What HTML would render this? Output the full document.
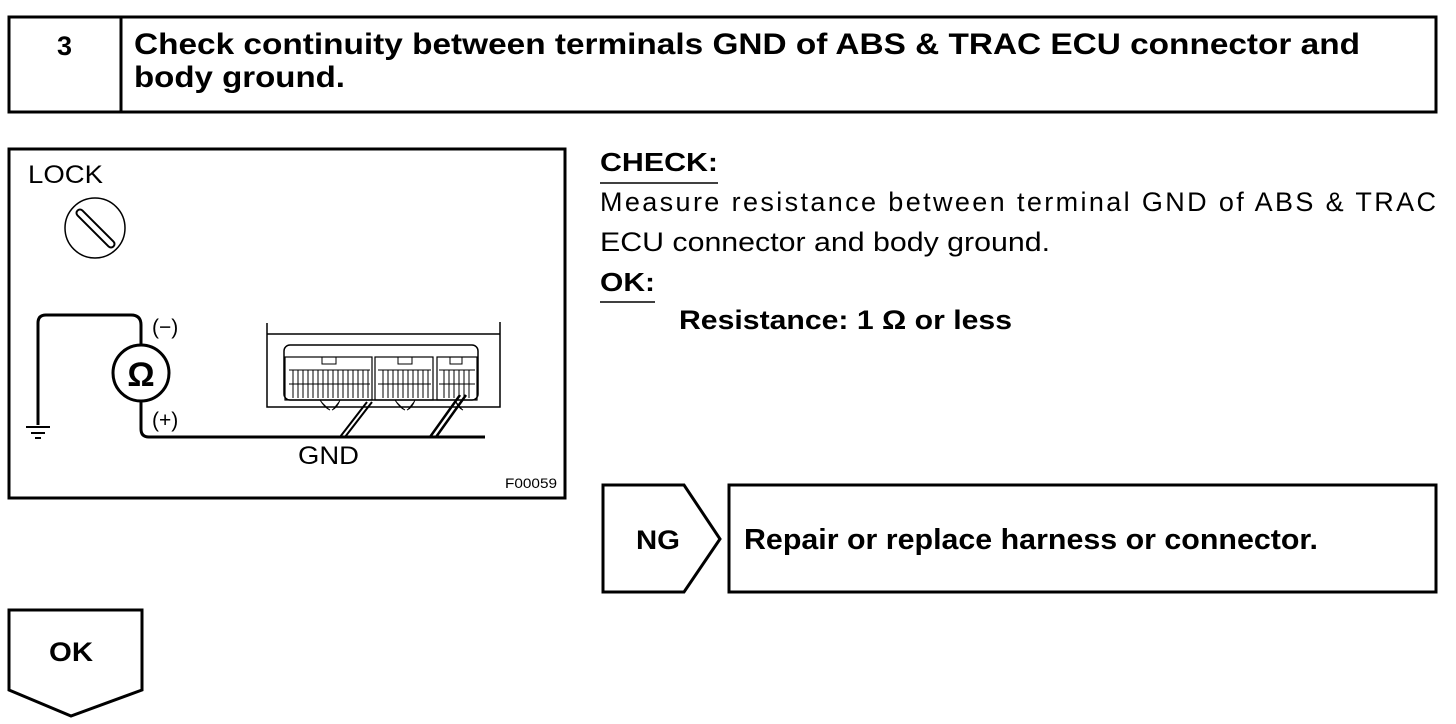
<!DOCTYPE html>
<html><head><meta charset="utf-8"><style>
html,body{margin:0;padding:0;background:#fff;}
svg{display:block;}
text{font-family:"Liberation Sans",Arial,sans-serif;fill:#000;}
.b{font-weight:bold;}
</style></head><body>
<svg width="1456" height="724" viewBox="0 0 1456 724" xmlns="http://www.w3.org/2000/svg">
<rect x="9" y="17" width="1427" height="95" fill="none" stroke="#000" stroke-width="3"/>
<line x1="121" y1="17" x2="121" y2="112" stroke="#000" stroke-width="3"/>
<text x="57" y="55" class="b" font-size="27">3</text>
<text x="134" y="54" class="b" font-size="30" textLength="1226" lengthAdjust="spacingAndGlyphs">Check continuity between terminals GND of ABS &amp; TRAC ECU connector and</text>
<text x="134" y="87" class="b" font-size="30" textLength="211" lengthAdjust="spacingAndGlyphs">body ground.</text>

<rect x="9" y="149" width="556" height="349" fill="none" stroke="#000" stroke-width="3"/>
<text x="28" y="183" font-size="25" textLength="75" lengthAdjust="spacingAndGlyphs">LOCK</text>
<circle cx="95" cy="228" r="30" fill="none" stroke="#000" stroke-width="1.5"/>
<path d="M80 213 L111 244" stroke="#000" stroke-width="9" stroke-linecap="round"/>
<path d="M80 213 L111 244" stroke="#fff" stroke-width="5" stroke-linecap="round"/>
<circle cx="141" cy="373" r="28" fill="none" stroke="#000" stroke-width="3"/>
<text x="141" y="386" class="b" font-size="34" text-anchor="middle">Ω</text>
<path d="M141 345 V325 Q141 315 131 315 H46 Q38 315 38 323 V425" fill="none" stroke="#000" stroke-width="3"/>
<line x1="26" y1="427" x2="50" y2="427" stroke="#000" stroke-width="2"/>
<line x1="31" y1="433" x2="45" y2="433" stroke="#000" stroke-width="2"/>
<line x1="35" y1="438" x2="41" y2="438" stroke="#000" stroke-width="2"/>
<text x="152" y="334" font-size="21">(−)</text>
<text x="152" y="427" font-size="21">(+)</text>
<path d="M141 401 V429 Q141 437 149 437 H485" fill="none" stroke="#000" stroke-width="3"/>
<path d="M345 437 L372 402 M340 437 L367 402" stroke="#000" stroke-width="2"/>
<path d="M430 437 L460 395 M436 437 L466 395" stroke="#000" stroke-width="2.5"/>
<path d="M267 323 V407 H500 V322" fill="none" stroke="#000" stroke-width="1.5"/>
<line x1="267" y1="334" x2="500" y2="334" stroke="#000" stroke-width="1.5"/>
<rect x="284" y="345" width="194" height="55" rx="6" fill="none" stroke="#000" stroke-width="1.5"/>
<g fill="none" stroke="#000" stroke-width="1.2">
<rect x="285" y="357" width="87" height="43"/>
<rect x="375" y="357" width="58" height="43"/>
<rect x="437" y="357" width="40" height="43"/>
</g>
<g stroke="#000" stroke-width="1">
<path d="M289 370 H370 M289 384 H370 M378 370 H431 M378 384 H431 M439 370 H475 M439 384 H475"/>
<path d="M293 370V398M298 370V398M303 370V398M308 370V398M313 370V398M318 370V398M323 370V398M328 370V398M333 370V398M338 370V398M343 370V398M348 370V398M353 370V398M358 370V398M363 370V398M368 370V398"/>
<path d="M383 370V398M388 370V398M393 370V398M398 370V398M403 370V398M408 370V398M413 370V398M418 370V398M423 370V398M428 370V398"/>
<path d="M444 370V398M449 370V398M454 370V398M459 370V398M464 370V398M469 370V398"/>
<rect x="322" y="357" width="14" height="7" fill="none"/>
<rect x="398" y="357" width="14" height="7" fill="none"/>
<rect x="450" y="357" width="12" height="7" fill="none"/>
<path d="M320 400 q5 8 10 10 M340 400 q-3 8 -8 10 M395 400 q5 8 10 10 M415 400 q-3 8 -8 10 M455 400 q3 8 8 10"/>
</g>
<text x="298" y="464" font-size="25" textLength="61" lengthAdjust="spacingAndGlyphs">GND</text>
<text x="505" y="488" font-size="14" textLength="52" lengthAdjust="spacingAndGlyphs">F00059</text>

<text x="600" y="171" class="b" font-size="26" textLength="118" lengthAdjust="spacingAndGlyphs">CHECK:</text>
<line x1="600" y1="183" x2="718" y2="183" stroke="#000" stroke-width="1.5"/>
<text x="600" y="211" font-size="27" textLength="836" lengthAdjust="spacing">Measure resistance between terminal GND of ABS &amp; TRAC</text>
<text x="600" y="251" font-size="27" textLength="450" lengthAdjust="spacingAndGlyphs">ECU connector and body ground.</text>
<text x="600" y="291" class="b" font-size="26" textLength="55" lengthAdjust="spacingAndGlyphs">OK:</text>
<line x1="600" y1="302" x2="655" y2="302" stroke="#000" stroke-width="1.5"/>
<text x="679" y="329" class="b" font-size="27" textLength="333" lengthAdjust="spacingAndGlyphs">Resistance: 1 Ω or less</text>

<path d="M603 485 H684 L720 539 L684 592 H603 Z" fill="none" stroke="#000" stroke-width="3"/>
<text x="636" y="549" class="b" font-size="27" textLength="44" lengthAdjust="spacingAndGlyphs">NG</text>
<rect x="729" y="485" width="707" height="107" fill="none" stroke="#000" stroke-width="3"/>
<text x="744" y="549" class="b" font-size="29" textLength="574" lengthAdjust="spacingAndGlyphs">Repair or replace harness or connector.</text>

<path d="M9 610 H142 V690 L71 716 L9 690 Z" fill="none" stroke="#000" stroke-width="3"/>
<text x="49" y="661" class="b" font-size="27" textLength="44" lengthAdjust="spacingAndGlyphs">OK</text>
</svg>
</body></html>
